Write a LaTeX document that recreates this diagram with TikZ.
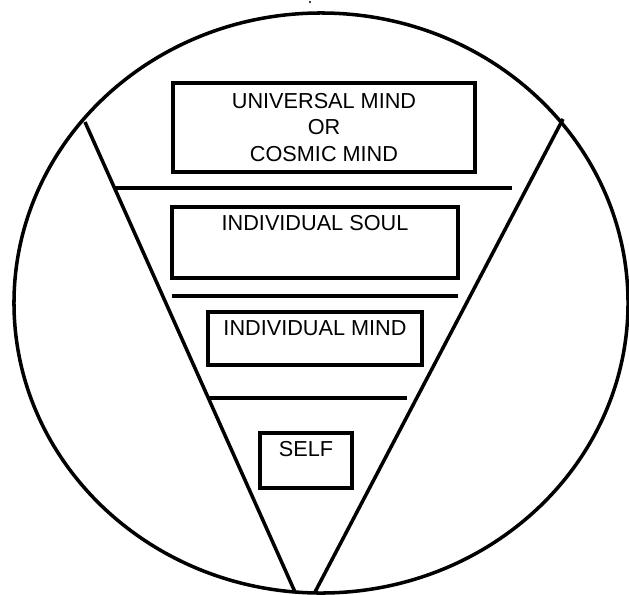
\documentclass[tikz,border=0pt]{standalone}
\usepackage{fontspec}
\setmainfont{Liberation Sans}

\begin{document}
\begin{tikzpicture}[x=0.03cm, y=-0.03cm, line width=3pt,
        box/.style={draw, line width=3.2pt, inner sep=0pt, font=\fontsize{18.5}{22.6}\selectfont, align=center},
        tag/.style={anchor=center, label distance=-15.4pt, font=\fontsize{18.5}{22.6}\selectfont}]
    \useasboundingbox (0,0) rectangle (629,594);

    % the circle
    \draw (321,303) ellipse [x radius=9.21cm, y radius=8.7cm];
    \fill (310,2) circle (1pt);

    % the cone
    \coordinate (tl) at (85,122);
    \coordinate (tr) at (563,119);
    \coordinate (bl) at (295,592);
    \coordinate (br) at (315,592);
    \draw (tl) -- (bl);
    \draw (tr) -- (br);

    % levels
    \node[box, minimum width=9.06cm, minimum height=2.67cm] (cosmic) at (324,127.5)
        {UNIVERSAL MIND\\OR\\COSMIC MIND};
    \draw (114,188) -- (512,188);

    \node[box, minimum width=8.58cm, minimum height=2.13cm,
        label={[tag]north:INDIVIDUAL SOUL}] (soul) at (315,242.5) {};
    \draw (172,296) -- (458,296);

    \node[box, minimum width=6.42cm, minimum height=1.59cm,
        label={[tag]north:INDIVIDUAL MIND}] (mind) at (315,338.5) {};
    \draw (208,398) -- (407,398);

    \node[box, minimum width=2.76cm, minimum height=1.65cm,
        label={[tag]north:SELF}] (self) at (306,460.5) {};
\end{tikzpicture}
\end{document}
